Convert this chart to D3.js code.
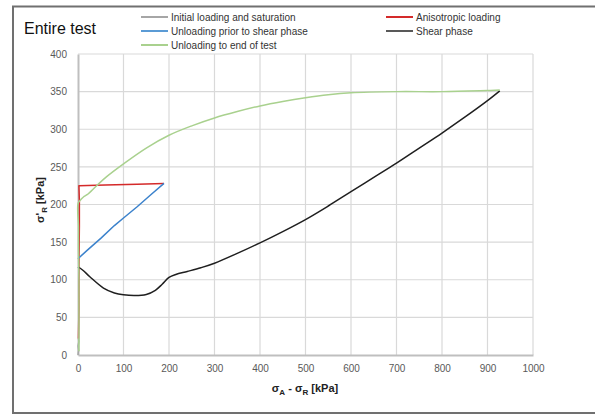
<!DOCTYPE html>
<html><head><meta charset="utf-8">
<script src="https://cdn.jsdelivr.net/npm/d3@7"></script>
<style>
html,body{margin:0;padding:0;background:#fff;}
svg{display:block;}
text{font-family:"Liberation Sans",Arial,sans-serif;}
</style></head>
<body><svg id="chart" width="595" height="414"></svg>
<script>
const xTicks = [0,100,200,300,400,500,600,700,800,900,1000];
const yTicks = [0,50,100,150,200,250,300,350,400];

const seriesNames = ["Initial loading and saturation","Anisotropic loading","Unloading prior to shear phase","Shear phase","Unloading to end of test"];
const seriesColors = ["#a6a6a6","#d42a2a","#3b82cc","#1f1f1f","#a9d18e"];
const legendColors = ["#a6a6a6","#d42a2a","#5b9bd5","#595959","#a9d18e"];

const initialLoading = [[0,0],[1,6],[0,12],[2,18],[1,22]];
const anisotropicLoading = [[1,22],[2,60],[2,120],[3,170],[3,205],[2,225],[60,226],[130,227],[189,228]];
const unloadingPrior = [[189,228],[160,213],[130,197],[100,182],[80,172],[50,155],[20,139],[0,128]];
const shearPhase = [[0,117],[10,113],[26,104],[56,89],[80,82.5],[100,80],[125,79],[150,80.5],[170,86],[185,94],[200,103],[215,107],[240,111],[270,116],[300,122],[350,135],[400,149],[450,164],[500,180],[550,198],[600,217],[650,236],[700,255],[750,275],[800,295],[850,316],[900,338],[927,351]];
const unloadingEnd = [[927,352],[900,351.5],[800,350],[700,350],[600,348.5],[550,346],[500,342],[450,337],[400,331],[350,323.5],[300,315],[250,304.5],[200,292],[150,275],[100,254],[63,237],[41,225],[20,213],[12,210],[4,205],[0,201],[1,170],[1,140],[2,100],[2,70],[2,30],[2,5]];
const seriesData = [initialLoading, anisotropicLoading, unloadingPrior, shearPhase, unloadingEnd];

const svg = d3.select("#chart");
const x = d3.scaleLinear().domain([0,1000]).range([78,533]);
const y = d3.scaleLinear().domain([0,400]).range([355,54]);

// outer border
svg.append("path").attr("d","M600,6.5 L13,6.5 L13,413 L600,413")
  .attr("fill","none").attr("stroke","#707070").attr("stroke-width",2);

// title
svg.append("text").attr("x",24).attr("y",34).attr("font-size",16)
  .attr("fill","#111").text("Entire test");

// gridlines
const g = svg.append("g");
g.selectAll(".vg").data(xTicks.slice(1)).join("line")
  .attr("x1",d=>x(d)).attr("x2",d=>x(d)).attr("y1",y(400)).attr("y2",y(0))
  .attr("stroke","#d9d9d9").attr("stroke-width",1.2);
g.selectAll(".hg").data(yTicks.slice(1)).join("line")
  .attr("x1",x(0)).attr("x2",x(1000)).attr("y1",d=>y(d)).attr("y2",d=>y(d))
  .attr("stroke","#d9d9d9").attr("stroke-width",1.2);

// axes
const xAxis = d3.axisBottom(x).tickValues(xTicks).tickFormat(d3.format("d")).tickSize(0).tickPadding(10);
const yAxis = d3.axisLeft(y).tickValues(yTicks).tickFormat(d3.format("d")).tickSize(0).tickPadding(11);
const gx = svg.append("g").attr("transform",`translate(0,${y(0)})`).call(xAxis);
const gy = svg.append("g").attr("transform",`translate(${x(0)},0)`).call(yAxis);
[gx,gy].forEach(a=>{
  a.select(".domain").attr("stroke","#bfbfbf").attr("stroke-width",2);
  a.selectAll("text").attr("font-size",10).attr("fill","#595959")
   .style("font-family","'Liberation Sans',Arial,sans-serif");
});

// lines
const smooth = d3.line().x(d=>x(d[0])).y(d=>y(d[1])).curve(d3.curveCatmullRom.alpha(0.5));
const straight = d3.line().x(d=>x(d[0])).y(d=>y(d[1]));
[0,1,2,3,4].forEach(i=>{
  svg.append("path").datum(seriesData[i]).attr("d", (i===3||i===4)?smooth:straight)
    .attr("fill","none").attr("stroke",seriesColors[i])
    .attr("stroke-width", 1.5).attr("stroke-linejoin","round");
});

// legend
const legendPos = [[141,17],[386,17],[141,31],[386,31],[141,45]];
seriesNames.forEach((n,i)=>{
  const [lx,ly] = legendPos[i];
  svg.append("line").attr("x1",lx).attr("x2",lx+27).attr("y1",ly).attr("y2",ly)
    .attr("stroke",legendColors[i]).attr("stroke-width",2);
  svg.append("text").attr("x",lx+30).attr("y",ly+3.5).attr("font-size",10).attr("fill","#333").text(n);
});

// axis titles
const xt = svg.append("text").attr("x",305).attr("y",392).attr("text-anchor","middle")
  .attr("font-size",11).attr("font-weight","bold").attr("fill","#222");
xt.append("tspan").text("σ");
xt.append("tspan").attr("font-size",8).attr("dy",3).text("A");
xt.append("tspan").attr("dy",-3).text(" - σ");
xt.append("tspan").attr("font-size",8).attr("dy",3).text("R");
xt.append("tspan").attr("dy",-3).text(" [kPa]");

const yt = svg.append("text").attr("transform","translate(44,200) rotate(-90)").attr("text-anchor","middle")
  .attr("font-size",11).attr("font-weight","bold").attr("fill","#222");
yt.append("tspan").text("σ'");
yt.append("tspan").attr("font-size",8).attr("dy",3).text("R");
yt.append("tspan").attr("dy",-3).text(" [kPa]");
</script></body></html>
